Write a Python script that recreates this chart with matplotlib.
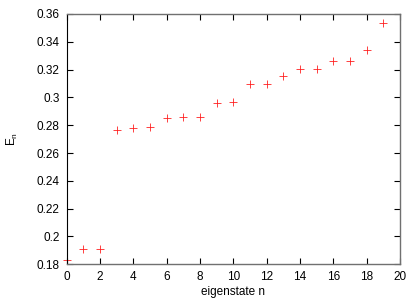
import matplotlib
matplotlib.use("Agg")
import matplotlib.pyplot as plt

n = list(range(20))
energy = [0.1829, 0.1908, 0.1908, 0.2766, 0.2778, 0.2790, 0.2850, 0.2857, 0.2857,
          0.2962, 0.2964, 0.3094, 0.3094, 0.3152, 0.3202, 0.3202, 0.3260, 0.3260,
          0.3339, 0.3533]
xticks = list(range(0, 21, 2))
yticks = [0.18, 0.2, 0.22, 0.24, 0.26, 0.28, 0.3, 0.32, 0.34, 0.36]
yticklabels = ["0.18", "0.2", "0.22", "0.24", "0.26", "0.28", "0.3", "0.32", "0.34", "0.36"]

plt.rcParams['font.family'] = ['Liberation Sans', 'DejaVu Sans']
fig = plt.figure(figsize=(4.2, 3.0), dpi=100)
ax = fig.add_axes([66.7/420, 1 - 264.3/300, (400 - 66.7)/420, (264.3 - 14)/300])
ax.plot(n, energy, linestyle='none', marker='+', color='#ff2020', markersize=6,
        markeredgewidth=0.6, clip_on=False)
ax.set_xlim(0, 20)
ax.set_ylim(0.18, 0.36)
ax.set_xticks(xticks)
ax.set_yticks(yticks)
ax.set_yticklabels(yticklabels)
ax.tick_params(direction='in', top=True, right=True, length=4, width=0.8,
               labelsize=8.5, pad=5)
for side in ['top', 'bottom', 'right']:
    ax.spines[side].set_color('#707070')
    ax.spines[side].set_linewidth(1.0)
ax.spines['left'].set_color('black')
ax.spines['left'].set_linewidth(0.8)
ax.set_xlabel('eigenstate n', fontsize=8.5, labelpad=2)
ax.set_ylabel(r'E$_\mathregular{n}$', fontsize=8.5, labelpad=12)
fig.savefig('out.png', dpi=100)
